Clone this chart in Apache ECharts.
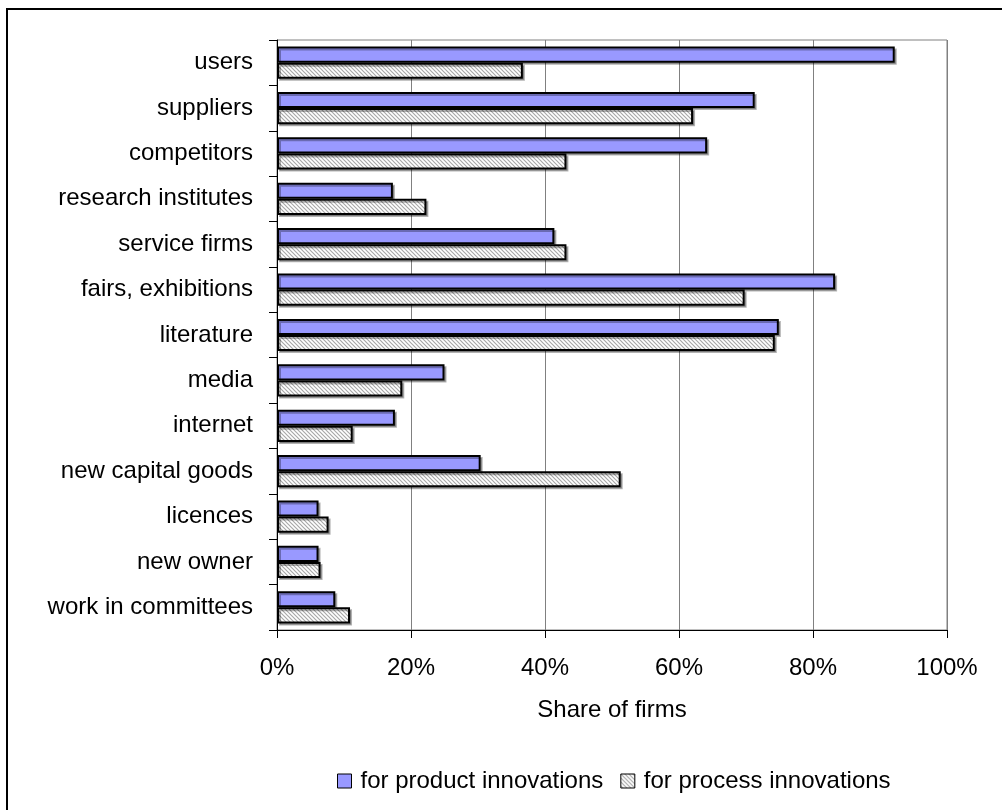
<!DOCTYPE html>
<html>
<head>
<meta charset="utf-8">
<script src="https://cdn.jsdelivr.net/npm/echarts@6/dist/echarts.min.js"></script>
<style>
  html, body { margin: 0; padding: 0; background: #fff; overflow: hidden; }
  #frame {
    position: absolute; left: 6px; top: 8px; width: 1100px; height: 900px;
    border: 2px solid #000; box-sizing: border-box;
  }
  #main { position: absolute; left: 0; top: 0; width: 1002px; height: 810px; }
</style>
</head>
<body>
<div id="frame"></div>
<div id="main"></div>
<script>
var categories = [
  "users", "suppliers", "competitors", "research institutes", "service firms",
  "fairs, exhibitions", "literature", "media", "internet", "new capital goods",
  "licences", "new owner", "work in committees"
];
var productValues = [92.2, 71.3, 64.2, 17.3, 41.4, 83.3, 74.9, 25.0, 17.6, 30.4, 6.2, 6.2, 8.7];
var processValues = [36.7, 62.1, 43.2, 22.3, 43.2, 69.8, 74.3, 18.7, 11.3, 51.3, 7.7, 6.5, 10.9];
var xTicks = [0, 20, 40, 60, 80, 100];

// hatch pattern for the process bars
function makeHatch() {
  var c = document.createElement("canvas");
  c.width = 4; c.height = 4;
  var ctx = c.getContext("2d");
  ctx.fillStyle = "#ffffff";
  ctx.fillRect(0, 0, 4, 4);
  ctx.strokeStyle = "#a8a8a8";
  ctx.lineWidth = 1.2;
  ctx.beginPath();
  ctx.moveTo(-1, -1); ctx.lineTo(5, 5);
  ctx.moveTo(-1, 3); ctx.lineTo(1, 5);
  ctx.moveTo(3, -1); ctx.lineTo(5, 1);
  ctx.stroke();
  return c;
}

var font = "'Liberation Sans', Arial, sans-serif";
var fs = 24;
var myChart = echarts.init(document.getElementById("main"), null, { renderer: "canvas" });

var barStyle = {
  borderColor: "#000",
  borderWidth: 2,
  shadowColor: "rgba(0,0,0,0.3)",
  shadowOffsetX: 2,
  shadowOffsetY: 2,
  shadowBlur: 0
};

var option = {
  animation: false,
  textStyle: { fontFamily: font, color: "#000" },
  grid: {
    left: 277, right: 55, top: 40, bottom: 180,
    show: true, borderColor: "#808080", borderWidth: 1
  },
  legend: {
    top: 764,
    left: 332,
    itemWidth: 14,
    itemHeight: 14,
    itemGap: 17,
    icon: "rect",
    itemStyle: { borderWidth: 1, borderColor: "#000", shadowColor: "transparent" },
    textStyle: { fontFamily: font, fontSize: fs, color: "#000", padding: [0, 0, 0, 4] },
    data: ["for product innovations", "for process innovations"]
  },
  xAxis: {
    type: "value",
    min: 0, max: 100, interval: 20,
    name: "Share of firms",
    nameLocation: "middle",
    nameGap: 68,
    nameTextStyle: { fontFamily: font, fontSize: fs, color: "#000" },
    axisLine: { show: true, lineStyle: { color: "#000", width: 1 } },
    axisTick: { show: true, length: 8, lineStyle: { color: "#000" } },
    axisLabel: {
      margin: 26,
      fontFamily: font, fontSize: fs, color: "#000",
      formatter: function (v) { return xTicks.indexOf(v) >= 0 ? v + "%" : ""; }
    },
    splitLine: { show: true, lineStyle: { color: "#808080", width: 1 } }
  },
  yAxis: {
    type: "category",
    inverse: true,
    data: categories,
    axisLine: { show: true, lineStyle: { color: "#000", width: 1 } },
    axisTick: { show: true, length: 8, alignWithLabel: false, lineStyle: { color: "#000" } },
    axisLabel: { margin: 24, fontFamily: font, fontSize: fs, color: "#000" },
    splitLine: { show: false }
  },
  series: [
    {
      name: "for product innovations",
      type: "bar",
      data: productValues,
      barGap: "0%",
      barCategoryGap: "29%",
      itemStyle: Object.assign({ color: "#9999ff" }, barStyle)
    },
    {
      name: "for process innovations",
      type: "bar",
      data: processValues,
      itemStyle: Object.assign({ color: { image: makeHatch(), repeat: "repeat" } }, barStyle)
    }
  ]
};

myChart.setOption(option);
</script>
</body>
</html>
